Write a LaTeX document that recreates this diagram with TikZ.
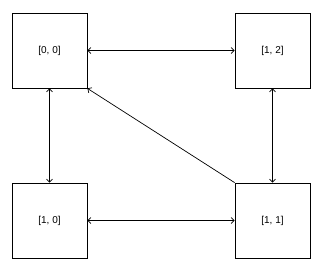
\documentclass[tikz,border=0pt]{standalone}
\usepackage{fontspec}
\setmainfont{Liberation Sans}
\usetikzlibrary{arrows.meta}

\begin{document}
\begin{tikzpicture}[x=1pt,y=-1pt,
  cell/.style={draw,line width=.8pt,minimum size=75pt,inner sep=0pt,font=\fontsize{10}{12}\selectfont},
  link/.style={line width=.7pt,{Straight Barb[length=3pt,width=6pt]}-{Straight Barb[length=3pt,width=6pt]}},
  onelink/.style={line width=.7pt,-{Straight Barb[length=3pt,width=6pt]}}]
 \path[use as bounding box] (0,0) rectangle (333,277);
 \node[cell] (c00) at (49.5,50.5) {[0, 0]};
 \node[cell] (c12) at (272.5,50.5) {[1, 2]};
 \node[cell] (c10) at (49.5,220.5) {[1, 0]};
 \node[cell] (c11) at (272.5,220.5) {[1, 1]};
 \draw[link] (c00.east) -- (c12.west);
 \draw[link] (c10.east) -- (c11.west);
 \draw[link] (c00.south) -- (c10.north);
 \draw[link] (c12.south) -- (c11.north);
 \draw[onelink] (c11.north west) -- (c00.south east);
\end{tikzpicture}
\end{document}
